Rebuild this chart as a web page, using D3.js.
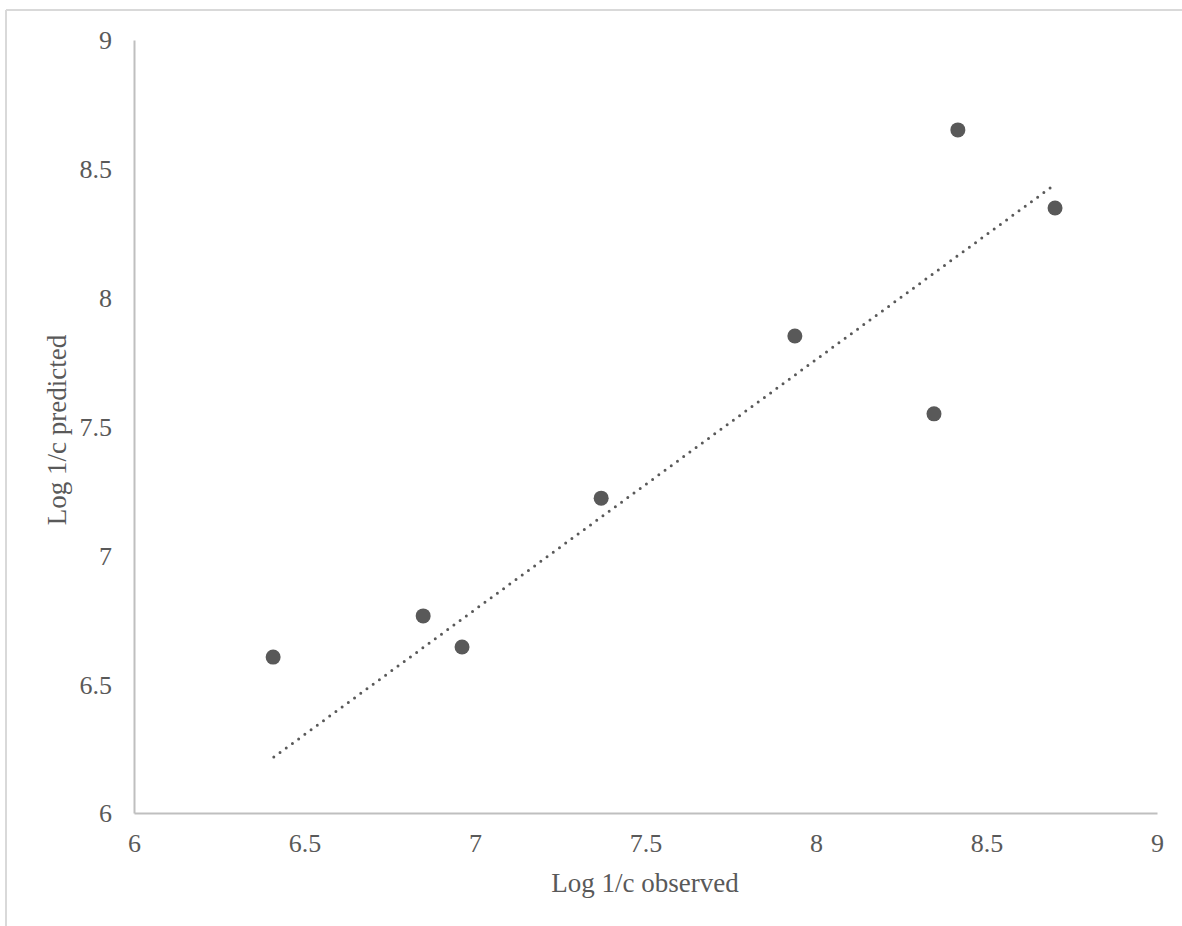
<!DOCTYPE html>
<html>
<head>
<meta charset="utf-8">
<script src="https://cdn.jsdelivr.net/npm/d3@7"></script>
<style>
  html, body { margin: 0; padding: 0; background: #fff; }
  svg { display: block; }
</style>
</head>
<body>
<svg id="chart" width="1182" height="926"></svg>
<script>
const observed  = [6.408, 6.848, 6.962, 7.370, 7.938, 8.346, 8.416, 8.701];
const predicted = [6.605, 6.765, 6.644, 7.222, 7.851, 7.549, 8.651, 8.348];
const trendX = [6.41, 8.69];
const trendY = [6.217, 8.429];
const xTicks = [6, 6.5, 7, 7.5, 8, 8.5, 9];
const yTicks = [6, 6.5, 7, 7.5, 8, 8.5, 9];
const xTitle = "Log 1/c observed";
const yTitle = "Log 1/c predicted";

const svg = d3.select("#chart");
const font = "'Liberation Serif', 'Times New Roman', serif";
const textColor = "#595959";
const axisColor = "#bfbfbf";

// outer frame (top and left edges visible)
svg.append("line").attr("x1", 6).attr("x2", 1182).attr("y1", 10).attr("y2", 10)
  .attr("stroke", "#d9d9d9").attr("stroke-width", 2);
svg.append("line").attr("x1", 6).attr("x2", 6).attr("y1", 10).attr("y2", 926)
  .attr("stroke", "#d9d9d9").attr("stroke-width", 2);

const x = d3.scaleLinear().domain([6, 9]).range([134, 1157]);
const y = d3.scaleLinear().domain([6, 9]).range([813, 40]);

// x axis
const xAxis = svg.append("g").attr("transform", `translate(0,${y(6)})`)
  .call(d3.axisBottom(x).tickValues(xTicks).tickSize(0).tickPadding(21).tickFormat(d3.format("")));
xAxis.select(".domain").attr("stroke", axisColor).attr("stroke-width", 2);
xAxis.selectAll("text").attr("font-family", font).attr("font-size", 26).attr("fill", textColor);

// y axis
const yAxis = svg.append("g").attr("transform", `translate(${x(6)},0)`)
  .call(d3.axisLeft(y).tickValues(yTicks).tickSize(0).tickPadding(22).tickFormat(d3.format("")));
yAxis.select(".domain").attr("stroke", axisColor).attr("stroke-width", 2);
yAxis.selectAll("text").attr("font-family", font).attr("font-size", 26).attr("fill", textColor)
  .attr("dy", "0.34em");

// trendline
svg.append("line")
  .attr("x1", x(trendX[0])).attr("y1", y(trendY[0]))
  .attr("x2", x(trendX[1])).attr("y2", y(trendY[1]))
  .attr("stroke", "#595959").attr("stroke-width", 3)
  .attr("stroke-dasharray", "0 7.7").attr("stroke-linecap", "round");

// points
svg.append("g").selectAll("circle")
  .data(observed.map((d, i) => [d, predicted[i]]))
  .join("circle")
  .attr("cx", d => x(d[0])).attr("cy", d => y(d[1]))
  .attr("r", 7.5).attr("fill", "#595959");

// titles
svg.append("text").attr("x", 645).attr("y", 892)
  .attr("text-anchor", "middle").attr("font-family", font).attr("font-size", 27)
  .attr("fill", textColor).text(xTitle);
svg.append("text").attr("transform", `translate(66,430) rotate(-90)`)
  .attr("text-anchor", "middle").attr("font-family", font).attr("font-size", 27)
  .attr("fill", textColor).text(yTitle);
</script>
</body>
</html>
